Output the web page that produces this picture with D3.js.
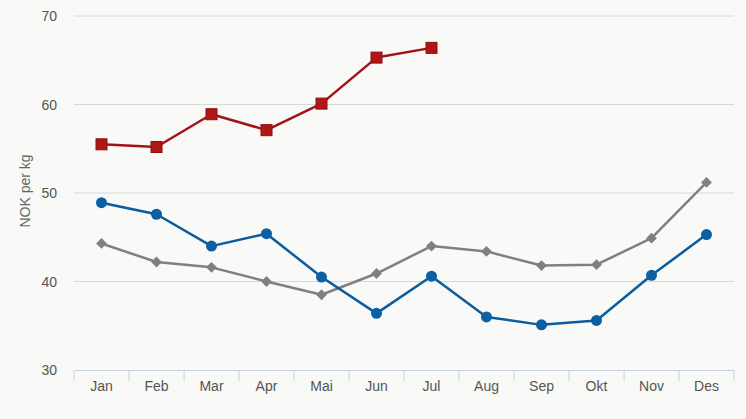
<!DOCTYPE html>
<html>
<head>
<meta charset="utf-8">
<script src="https://cdn.jsdelivr.net/npm/d3@7"></script>
<style>
  body { margin: 0; background: #f9f9f7; }
  svg { display: block; font-family: "Liberation Sans", Arial, sans-serif; }
</style>
</head>
<body>
<svg width="746" height="419"></svg>
<script>
const months = ['Jan', 'Feb', 'Mar', 'Apr', 'Mai', 'Jun', 'Jul', 'Aug', 'Sep', 'Okt', 'Nov', 'Des'];
const yTicks = [30, 40, 50, 60, 70];

// three price series, NOK per kg
const redValues = [55.5, 55.2, 58.9, 57.1, 60.1, 65.3, 66.4];
const blueValues = [48.9, 47.6, 44.0, 45.4, 40.5, 36.4, 40.6, 36.0, 35.1, 35.6, 40.7, 45.3];
const grayValues = [44.3, 42.2, 41.6, 40.0, 38.5, 40.9, 44.0, 43.4, 41.8, 41.9, 44.9, 51.2];

const svg = d3.select("svg");
const margin = { top: 16, right: 12, bottom: 49, left: 74 };
const width = +svg.attr("width");
const height = +svg.attr("height");

const x = d3.scaleBand()
    .domain(months)
    .range([margin.left, width - margin.right]);

const y = d3.scaleLinear()
    .domain([30, 70])
    .range([height - margin.bottom, margin.top]);

// grid
svg.append("g")
    .selectAll("line")
    .data(yTicks.slice(1))
    .enter().append("line")
    .attr("x1", margin.left)
    .attr("x2", width - margin.right)
    .attr("y1", d => y(d))
    .attr("y2", d => y(d))
    .attr("stroke", "#d8d8d8")
    .attr("stroke-width", 1);

// y labels
svg.append("g")
    .selectAll("text")
    .data(yTicks)
    .enter().append("text")
    .attr("x", 57)
    .attr("y", d => y(d) + 5)
    .attr("text-anchor", "end")
    .attr("font-size", 14)
    .attr("fill", "#555")
    .text(d => d);

svg.append("text")
    .attr("transform", "translate(30,191) rotate(-90)")
    .attr("text-anchor", "middle")
    .attr("font-size", 14)
    .attr("fill", "#666")
    .text("NOK per kg");

// x axis
const xAxis = svg.append("g")
    .attr("transform", "translate(0," + (height - margin.bottom) + ")")
    .call(d3.axisBottom(x).tickSize(0).tickPadding(11));
xAxis.select(".domain").attr("stroke", "#c4d2e4");
xAxis.selectAll("text").attr("font-size", 14).attr("fill", "#555")
    .attr("font-family", "Liberation Sans, Arial, sans-serif");

const edges = months.map(m => x(m)).concat([x(months[months.length - 1]) + x.bandwidth()]);
xAxis.selectAll(".sep")
    .data(edges)
    .enter().append("line")
    .attr("class", "sep")
    .attr("x1", d => d).attr("x2", d => d)
    .attr("y1", 0).attr("y2", 11)
    .attr("stroke", "#c4d2e4");

const cx = (d, i) => x(months[i]) + x.bandwidth() / 2;

function drawLine(values, color) {
    svg.append("path")
        .datum(values)
        .attr("fill", "none")
        .attr("stroke", color)
        .attr("stroke-width", 2.5)
        .attr("stroke-linejoin", "round")
        .attr("d", d3.line().x(cx).y(d => y(d)));
}

drawLine(grayValues, "#808080");
drawLine(blueValues, "#0b5c9e");
drawLine(redValues, "#a01414");

svg.append("g").selectAll("path")
    .data(grayValues)
    .enter().append("path")
    .attr("transform", (d, i) => "translate(" + cx(d, i) + "," + y(d) + ")")
    .attr("d", d3.symbol(d3.symbolDiamond2, 75))
    .attr("fill", "#808080");

svg.append("g").selectAll("circle")
    .data(blueValues)
    .enter().append("circle")
    .attr("cx", cx)
    .attr("cy", d => y(d))
    .attr("r", 5.5)
    .attr("fill", "#0b5fa5");

svg.append("g").selectAll("rect")
    .data(redValues)
    .enter().append("rect")
    .attr("x", (d, i) => cx(d, i) - 5.5)
    .attr("y", d => y(d) - 5.5)
    .attr("width", 11)
    .attr("height", 11)
    .attr("fill", "#b01616")
    .attr("stroke", "#8c0e0e")
    .attr("stroke-width", 1);
</script>
</body>
</html>
